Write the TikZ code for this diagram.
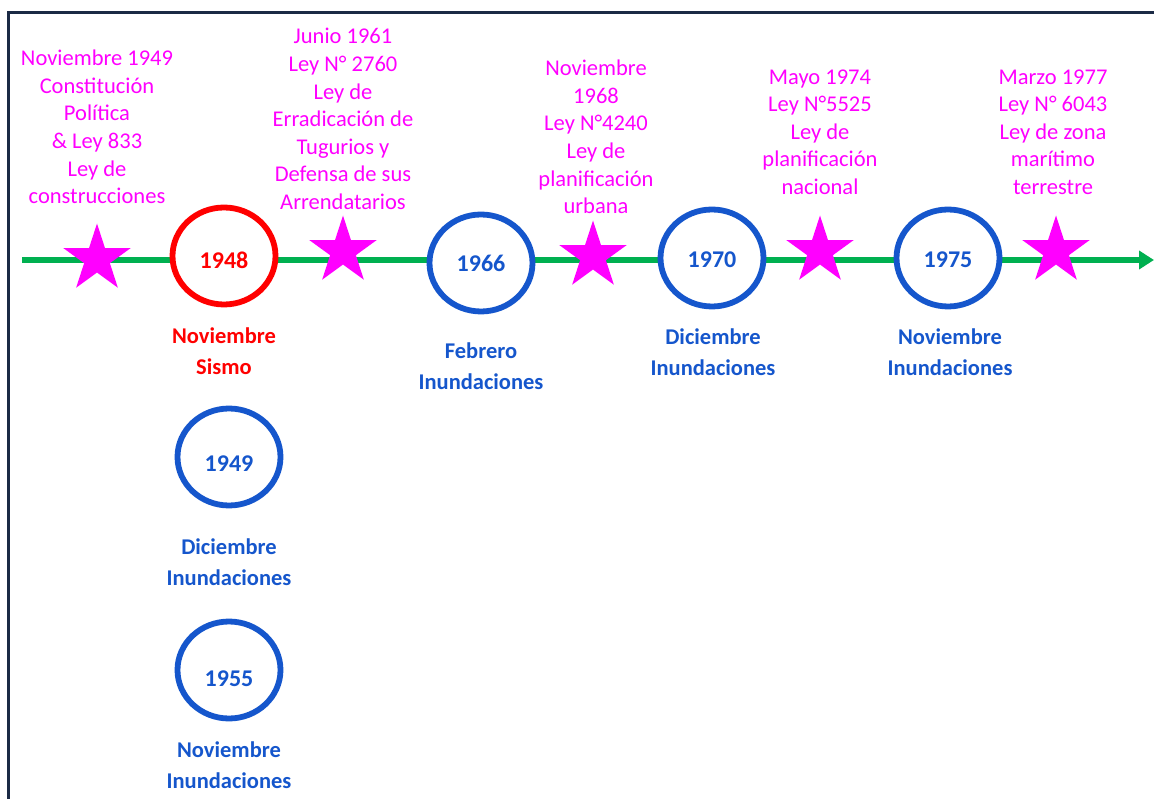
\documentclass[tikz,border=0pt]{standalone}
\usepackage{fontspec}
\setmainfont{Carlito}
\usetikzlibrary{shapes.geometric,arrows.meta}
\definecolor{frame}{HTML}{1B2A45}
\definecolor{tlgreen}{HTML}{00B050}
\definecolor{evblue}{HTML}{1556CC}
\definecolor{evred}{HTML}{FF0000}
\definecolor{lawmag}{HTML}{FF00FF}
\tikzset{
  yearring/.style={ellipse, draw=evblue, line width=5.8pt, fill=white, minimum width=103pt, minimum height=97pt, inner sep=0pt},
  redring/.style={yearring, draw=evred},
  yeartext/.style={text=evblue, font=\fontsize{24}{28}\selectfont\bfseries, inner sep=0pt},
  evlabel/.style={text=evblue, align=center, font=\fontsize{22.5}{30.5}\selectfont\bfseries, inner sep=0pt},
  lawtext/.style={text=lawmag, align=center, font=\fontsize{22.5}{27.6}\selectfont, inner sep=0pt},
  lawstar/.style={star, star points=5, star point ratio=2.618, fill=lawmag, draw=none, minimum size=71pt, inner sep=0pt}
}
\begin{document}
\begin{tikzpicture}[x=1pt,y=-1pt]
\useasboundingbox (0,0) rectangle (1154,799);
% frame
\draw[frame, line width=3pt] (8,799) -- (8,13) -- (1154,13);
% timeline
\coordinate (tlstart) at (22,260);
\coordinate (tlend) at (1154,260);
\draw[tlgreen, line width=5.5pt, -{Triangle[length=15pt,width=18pt]}] (tlstart) -- (tlend);
% event rings
\node[redring] (c1948) at (224,256) {};
\node[yearring] (c1966) at (481,263) {};
\node[yearring] (c1970) at (712,258) {};
\node[yearring] (c1975) at (948,258) {};
\node[yearring] (c1949) at (229,457) {};
\node[yearring] (c1955) at (229,670) {};
% years
\node[yeartext, text=evred] (y1948) at (224,260) {1948};
\node[yeartext] (y1966) at (481,263) {1966};
\node[yeartext] (y1970) at (712,260) {1970};
\node[yeartext] (y1975) at (948,260) {1975};
\node[yeartext] (y1949) at (229,464) {1949};
\node[yeartext] (y1955) at (229,679) {1955};
% event labels
\node[evlabel, text=evred] (l1948) at (224,351) {Noviembre\\Sismo};
\node[evlabel] (l1966) at (481,366) {Febrero\\Inundaciones};
\node[evlabel] (l1970) at (713,352) {Diciembre\\Inundaciones};
\node[evlabel] (l1975) at (950,352) {Noviembre\\Inundaciones};
\node[evlabel] (l1949) at (229,562) {Diciembre\\Inundaciones};
\node[evlabel] (l1955) at (229,765) {Noviembre\\Inundaciones};
% stars
\node[lawstar] (s1) at (97,259) {};
\node[lawstar] (s2) at (343,251) {};
\node[lawstar] (s3) at (593,256) {};
\node[lawstar] (s4) at (820,251) {};
\node[lawstar] (s5) at (1056,251) {};
% law texts
\node[lawtext] (t1) at (97,127) {Noviembre 1949\\Constitución\\Política\\\& Ley 833\\Ley de\\construcciones};
\node[lawtext] (t2) at (343,119) {Junio 1961\\Ley N° 2760\\Ley de\\Erradicación de\\Tugurios y\\Defensa de sus\\Arrendatarios};
\node[lawtext] (t3) at (596,137) {Noviembre\\1968\\Ley N°4240\\Ley de\\planificación\\urbana};
\node[lawtext] (t4) at (820,132) {Mayo 1974\\Ley N°5525\\Ley de\\planificación\\nacional};
\node[lawtext] (t5) at (1053,132) {Marzo 1977\\Ley N° 6043\\Ley de zona\\marítimo\\terrestre};
\end{tikzpicture}
\end{document}
